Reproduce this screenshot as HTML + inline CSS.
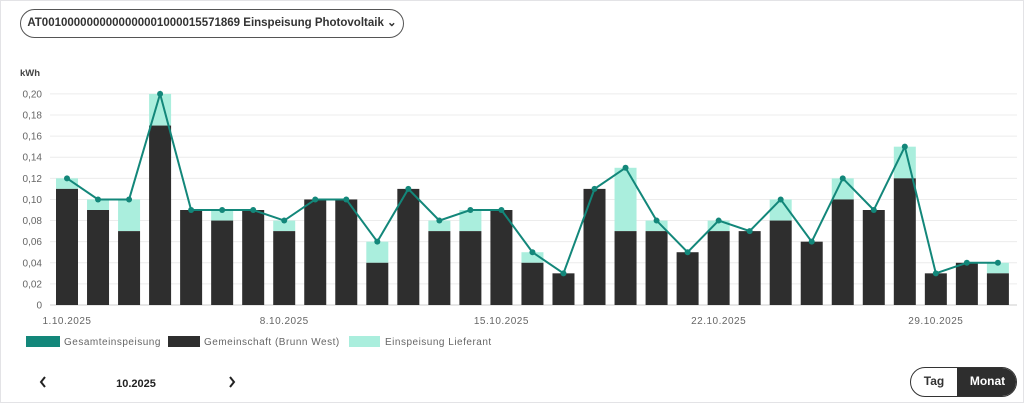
<!DOCTYPE html>
<html><head><meta charset="utf-8"><style>
html,body{margin:0;padding:0;background:#fff;}
body{width:1024px;height:403px;position:relative;overflow:hidden;font-family:"Liberation Sans",Arial,sans-serif;}
.frame{position:absolute;left:0;top:0;width:1022px;height:401px;border:1px solid #e3e3e6;}
.sel{position:absolute;left:20px;top:9px;width:384px;height:29px;border:1.5px solid #555;border-radius:15px;font-weight:bold;font-size:11.5px;color:#333;line-height:26px;text-align:center;box-sizing:border-box;white-space:nowrap;}
.toggle{position:absolute;left:910px;top:367px;width:107px;height:30px;border:1.5px solid #333;border-radius:16px;overflow:hidden;box-sizing:border-box;font-weight:bold;font-size:12px;}
.toggle div{position:absolute;top:0;height:100%;line-height:27px;text-align:center;}
</style></head><body>
<div class="frame"></div>
<div class="sel">AT0010000000000000001000015571869 Einspeisung Photovoltaik &#x2304;</div>
<svg id="c" width="1024" height="403" style="position:absolute;left:0;top:0" font-family="Liberation Sans, Arial, sans-serif"></svg>
<div class="toggle"><div style="left:0;width:46px;color:#333">Tag</div><div style="left:46px;width:61px;background:#2e2e2e;color:#fff">Monat</div></div>
<script>
var dark=[.11,.09,.07,.17,.09,.08,.09,.07,.10,.10,.04,.11,.07,.07,.09,.04,.03,.11,.07,.07,.05,.07,.07,.08,.06,.10,.09,.12,.03,.04,.03];
var tot=[.12,.10,.10,.20,.09,.09,.09,.08,.10,.10,.06,.11,.08,.09,.09,.05,.03,.11,.13,.08,.05,.08,.07,.10,.06,.12,.09,.15,.03,.04,.04];
function y(v){return 305-v*1055.5;}
var s='';
s+='<text x="20" y="76" font-size="9.5" font-weight="bold" fill="#444">kWh</text>';
for(var k=0;k<=10;k++){var v=k*0.02,yy=y(v);
s+='<line x1="50" x2="1017" y1="'+yy+'" y2="'+yy+'" stroke="'+(k==0?'#ccc':'#ececec')+'" stroke-width="1"/>';
s+='<text x="42" y="'+(yy+3.5)+'" font-size="10" fill="#666" text-anchor="end">'+(k==0?'0':v.toFixed(2).replace('.',','))+'</text>';}
var pts=[];
for(var i=0;i<31;i++){var c=67+31.03*i;
s+='<rect x="'+(c-11)+'" y="'+y(tot[i])+'" width="22" height="'+(y(dark[i])-y(tot[i]))+'" fill="#aaeedd"/>';
s+='<rect x="'+(c-11)+'" y="'+y(dark[i])+'" width="22" height="'+(305-y(dark[i]))+'" fill="#2e2e2e"/>';
pts.push(c+','+y(tot[i]));}
s+='<polyline points="'+pts.join(' ')+'" fill="none" stroke="#13877a" stroke-width="2"/>';
for(var i=0;i<31;i++){var p=pts[i].split(',');s+='<circle cx="'+p[0]+'" cy="'+p[1]+'" r="3" fill="#13877a"/>';}
var lab=['1.10.2025','8.10.2025','15.10.2025','22.10.2025','29.10.2025'];
for(var j=0;j<5;j++){s+='<text x="'+(67+31.03*7*j)+'" y="324" font-size="10" fill="#666" text-anchor="middle" letter-spacing="0.5">'+lab[j]+'</text>';}
s+='<rect x="26" y="336" width="34" height="11" fill="#13877a"/><text x="64" y="345" font-size="10" fill="#666" letter-spacing="0.5">Gesamteinspeisung</text>';
s+='<rect x="168" y="336" width="32" height="11" fill="#2e2e2e"/><text x="204" y="345" font-size="10" fill="#666" letter-spacing="0.5">Gemeinschaft (Brunn West)</text>';
s+='<rect x="349" y="336" width="31" height="11" fill="#aaeedd"/><text x="385" y="345" font-size="10" fill="#666" letter-spacing="0.5">Einspeisung Lieferant</text>';
s+='<path d="M45,377 L41,382 L45,387" fill="none" stroke="#222" stroke-width="2"/>';
s+='<text x="136" y="387" font-size="11" font-weight="bold" fill="#222" text-anchor="middle">10.2025</text>';
s+='<path d="M230,377 L234,382 L230,387" fill="none" stroke="#222" stroke-width="2"/>';
document.getElementById('c').innerHTML=s;
</script>
</body></html>
